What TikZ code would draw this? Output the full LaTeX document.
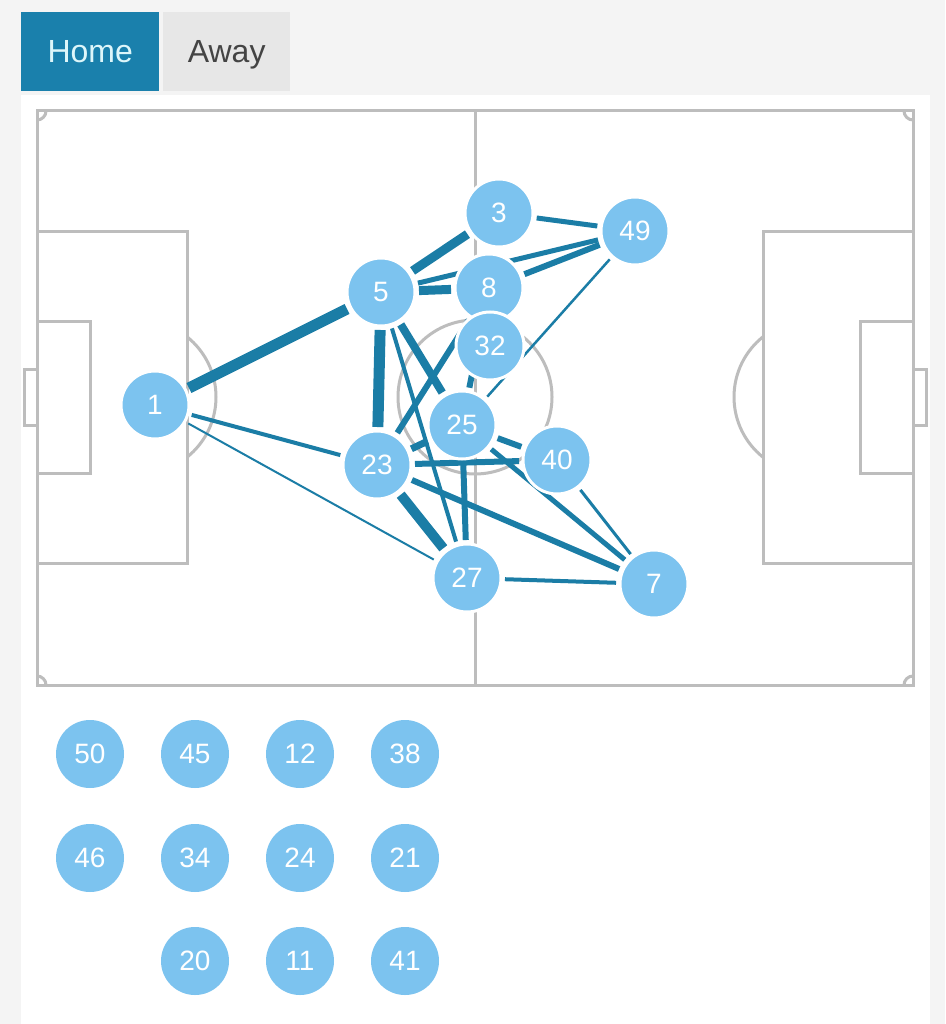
\documentclass[tikz,border=0pt]{standalone}
\usepackage{fontspec}
\setmainfont{Liberation Sans}
\pgfdeclarelayer{bg}
\pgfdeclarelayer{edges}
\pgfsetlayers{bg,edges,main}
\definecolor{pagebg}{HTML}{F4F4F4}
\definecolor{homeblue}{HTML}{1A80AC}
\definecolor{hometext}{HTML}{DDF6FA}
\definecolor{awaygray}{HTML}{E7E7E7}
\definecolor{awaytext}{HTML}{444444}
\definecolor{pitchline}{HTML}{BDBDBD}
\definecolor{playerfill}{HTML}{7CC3EF}
\definecolor{passcol}{HTML}{1B7DA6}
\begin{document}
\begin{tikzpicture}[x=1pt,y=-1pt,
  player/.style={circle, fill=playerfill, draw=white, line width=3pt, minimum size=68pt,
    inner sep=0pt, outer sep=4pt, text=white, font=\fontsize{28}{28}\selectfont},
  benchp/.style={circle, fill=playerfill, minimum size=68pt, inner sep=0pt,
    text=white, font=\fontsize{28}{28}\selectfont},
  pass/.style={draw=passcol, line cap=butt},
  pitchln/.style={draw=pitchline, line width=3pt},
  tab/.style={minimum width=#1, minimum height=79pt, inner sep=0pt, anchor=north west,
    text height=27pt, text depth=6pt, font=\fontsize{32}{32}\selectfont},
]
\useasboundingbox (0,0) rectangle (945,1024);
\begin{pgfonlayer}{bg}
  \fill[pagebg] (0,0) rectangle (945,1024);
  \fill[white] (21,95) rectangle (930,1024);
  % pitch
  \draw[pitchln] (37,111) rectangle (913,685);
  \draw[pitchln] (475,111) -- (475,685);
  \draw[pitchln] (475,397) circle (77);
  \draw[pitchln] (37,232) rectangle (187,563);
  \draw[pitchln] (37,321) rectangle (90,473);
  \draw[pitchln] (37,369) -- (24,369) -- (24,425) -- (37,425);
  \draw[pitchln] (913,232) rectangle (763,563);
  \draw[pitchln] (913,321) rectangle (860,473);
  \draw[pitchln] (913,369) -- (926,369) -- (926,425) -- (913,425);
  \begin{scope}
    \clip (187,300) rectangle (260,500);
    \draw[pitchln] (139,397) circle (77);
  \end{scope}
  \begin{scope}
    \clip (690,300) rectangle (763,500);
    \draw[pitchln] (811,397) circle (77);
  \end{scope}
  \begin{scope}
    \clip (37,111) rectangle (913,685);
    \draw[pitchln] (37,111) circle (9);
    \draw[pitchln] (913,111) circle (9);
    \draw[pitchln] (37,685) circle (9);
    \draw[pitchln] (913,685) circle (9);
  \end{scope}
\end{pgfonlayer}

% tabs
\node[tab=138pt, fill=homeblue, text=hometext] (home) at (21,12) {Home};
\node[tab=127pt, fill=awaygray, text=awaytext] (away) at (163,12) {Away};

% players on pitch
\node[player] (p1) at (155,405) {1};
\node[player] (p3) at (499,213) {3};
\node[player] (p49) at (635,231) {49};
\node[player] (p5) at (381,292) {5};
\node[player] (p8) at (489,288) {8};
\node[player] (p32) at (490,346) {32};
\node[player] (p25) at (462,425) {25};
\node[player] (p23) at (377,465) {23};
\node[player] (p40) at (557,460) {40};
\node[player] (p27) at (467,578) {27};
\node[player] (p7) at (654,584) {7};

% bench
\node[benchp] (b50) at (90,754) {50};
\node[benchp] (b45) at (195,754) {45};
\node[benchp] (b12) at (300,754) {12};
\node[benchp] (b38) at (405,754) {38};
\node[benchp] (b46) at (90,858) {46};
\node[benchp] (b34) at (195,858) {34};
\node[benchp] (b24) at (300,858) {24};
\node[benchp] (b21) at (405,858) {21};
\node[benchp] (b20) at (195,961) {20};
\node[benchp] (b11) at (300,961) {11};
\node[benchp] (b41) at (405,961) {41};

% passes
\begin{pgfonlayer}{edges}
  \draw[pass, line width=11pt] (p1) -- (p5);
  \draw[pass, line width=4pt] (p1) -- (p23);
  \draw[pass, line width=2pt] (p1) -- (p27);
  \draw[pass, line width=9pt] (p5) -- (p3);
  \draw[pass, line width=9pt] (p5) -- (p8);
  \draw[pass, line width=5pt] (p5) -- (p49);
  \draw[pass, line width=5pt] (p3) -- (p49);
  \draw[pass, line width=6pt] (p8) -- (p49);
  \draw[pass, line width=2.5pt] (p49) -- (p25);
  \draw[pass, line width=11pt] (p5) -- (p23);
  \draw[pass, line width=8pt] (p5) -- (p25);
  \draw[pass, line width=4pt] (p5) -- (p27);
  \draw[pass, line width=6pt] (p8) -- (p23);
  \draw[pass, line width=6pt] (p8) -- (p25);
  \draw[pass, line width=7pt] (p25) -- (p23);
  \draw[pass, line width=6pt] (p23) -- (p40);
  \draw[pass, line width=6pt] (p25) -- (p40);
  \draw[pass, line width=5pt] (p25) -- (p7);
  \draw[pass, line width=6pt] (p25) -- (p27);
  \draw[pass, line width=10pt] (p23) -- (p27);
  \draw[pass, line width=6pt] (p23) -- (p7);
  \draw[pass, line width=3pt] (p40) -- (p7);
  \draw[pass, line width=4pt] (p27) -- (p7);
\end{pgfonlayer}
\end{tikzpicture}
\end{document}
